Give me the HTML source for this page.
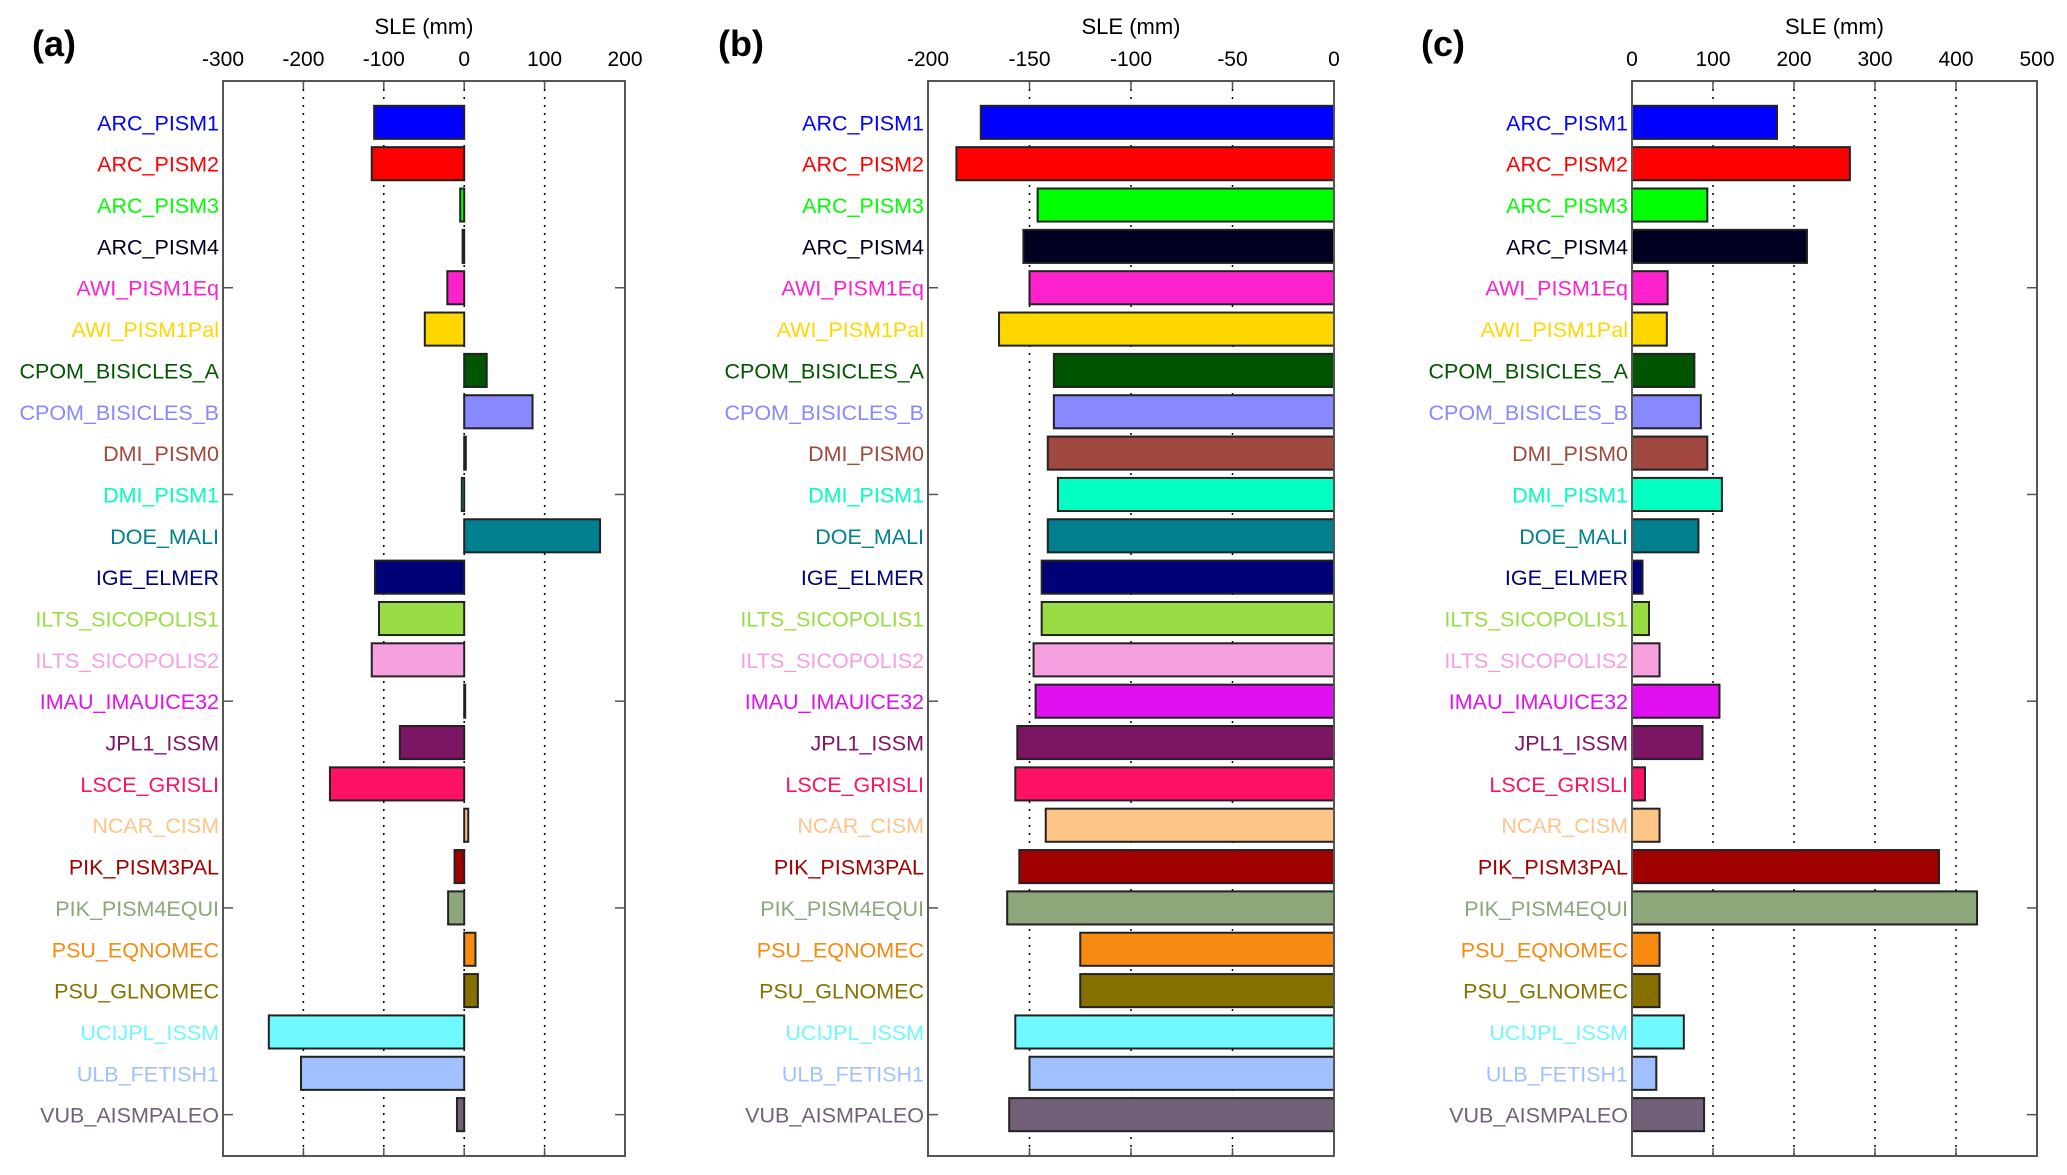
<!DOCTYPE html>
<html><head><meta charset="utf-8"><style>
html,body{margin:0;padding:0;background:#fff;}
svg{display:block;font-family:"Liberation Sans",Arial,sans-serif;}
</style></head><body>
<svg id="fig" width="2067" height="1175" viewBox="0 0 2067 1175" xmlns="http://www.w3.org/2000/svg"></svg>
<script>
const models = ["ARC_PISM1","ARC_PISM2","ARC_PISM3","ARC_PISM4","AWI_PISM1Eq","AWI_PISM1Pal","CPOM_BISICLES_A","CPOM_BISICLES_B","DMI_PISM0","DMI_PISM1","DOE_MALI","IGE_ELMER","ILTS_SICOPOLIS1","ILTS_SICOPOLIS2","IMAU_IMAUICE32","JPL1_ISSM","LSCE_GRISLI","NCAR_CISM","PIK_PISM3PAL","PIK_PISM4EQUI","PSU_EQNOMEC","PSU_GLNOMEC","UCIJPL_ISSM","ULB_FETISH1","VUB_AISMPALEO"];
const colors = ["#0000ff","#ff0000","#00ff00","#000022","#ff22cc","#ffd700","#005500","#8888ff","#a0483f","#00ffc0","#00808f","#000077","#99dd44","#f7a0e0","#e010f0","#7d1565","#ff1166","#ffc488","#a00000","#8da67a","#f78a10","#857000","#70f8ff","#a0c0ff","#716078"];
const valuesA = [-112,-115,-5,-2,-21,-49,28,85,2,-3,169,-111,-106,-115,0.5,-80,-167,5,-12,-20,14,17,-243,-203,-9];
const valuesB = [-174,-186,-146,-153,-150,-165,-138,-138,-141,-136,-141,-144,-144,-148,-147,-156,-157,-142,-155,-161,-125,-125,-157,-150,-160];
const valuesC = [179,269,93,216,44,43,77,85,93,111,82,13,21,34,108,87,16,34,379,426,34,34,64,30,89];
const ticksA = [-300,-200,-100,0,100,200];
const ticksB = [-200,-150,-100,-50,0];
const ticksC = [0,100,200,300,400,500];
const panelLabels = ["(a)","(b)","(c)"];

const NS="http://www.w3.org/2000/svg";
const svg=document.getElementById('fig');
function mk(tag,attrs,parent){const e=document.createElementNS(NS,tag);for(const k in attrs)e.setAttribute(k,attrs[k]);(parent||svg).appendChild(e);return e;}

const TOP=81, BOT=1156;
function yScale(i){return TOP+(i+1)*(BOT-TOP)/26;}
const step=(BOT-TOP)/26, barH=step*0.8;

function panel(idx,left,right,vals,ticks,lx){
  const g=mk('g',{});
  
  
  const xmin=ticks[0], xmax=ticks[ticks.length-1];
  const xs=v=>left+(v-xmin)/(xmax-xmin)*(right-left);
  ticks.forEach((t,k)=>{
    if(k>0&&k<ticks.length-1){
      const gl=mk('line',{x1:xs(t),x2:xs(t),y1:TOP,y2:BOT,stroke:'#000','stroke-width':1.5,'stroke-dasharray':'2,6'},g);
      
      
    }
    const tl=mk('text',{x:xs(t),y:66,'text-anchor':'middle','font-size':21,fill:'#000'},g);
    tl.textContent=t;
    
    
    mk('line',{x1:xs(t),x2:xs(t),y1:BOT,y2:BOT-8,stroke:'#555','stroke-width':1.5},g);
    mk('line',{x1:xs(t),x2:xs(t),y1:TOP,y2:TOP+8,stroke:'#555','stroke-width':1.5},g);
  });
  const title=mk('text',{x:(left+right)/2,y:34,'text-anchor':'middle','font-size':22,fill:'#000'},g);
  title.textContent='SLE (mm)';
  
  
  const pl=mk('text',{x:lx,y:56,'font-size':36,'font-weight':'bold',fill:'#000'},g);
  pl.textContent=panelLabels[idx];
  
  
  [4,9,14,19,24].forEach(i=>{
    mk('line',{x1:left,x2:left+10,y1:yScale(i),y2:yScale(i),stroke:'#555','stroke-width':1.5},g);
    mk('line',{x1:right,x2:right-10,y1:yScale(i),y2:yScale(i),stroke:'#555','stroke-width':1.5},g);
  });
  vals.forEach((v,i)=>{
    const x0=xs(Math.min(0,v)), x1=xs(Math.max(0,v));
    const r=mk('rect',{x:x0,y:yScale(i)-barH/2,width:Math.max(x1-x0,1),height:barH,fill:colors[i],stroke:'#222','stroke-width':2},g);
    
    
    const t=mk('text',{x:left-4,y:yScale(i)+8,'text-anchor':'end','font-size':21.5,fill:colors[i]},g);
    t.textContent=models[i];
    
    
  });
  const fr=mk('rect',{x:left,y:TOP,width:right-left,height:BOT-TOP,fill:'none',stroke:'#555','stroke-width':2},g);
  
  
}
panel(0,223,625,valuesA,ticksA,32);
panel(1,928,1334,valuesB,ticksB,718);
panel(2,1632,2037,valuesC,ticksC,1421);
</script>
</body></html>
